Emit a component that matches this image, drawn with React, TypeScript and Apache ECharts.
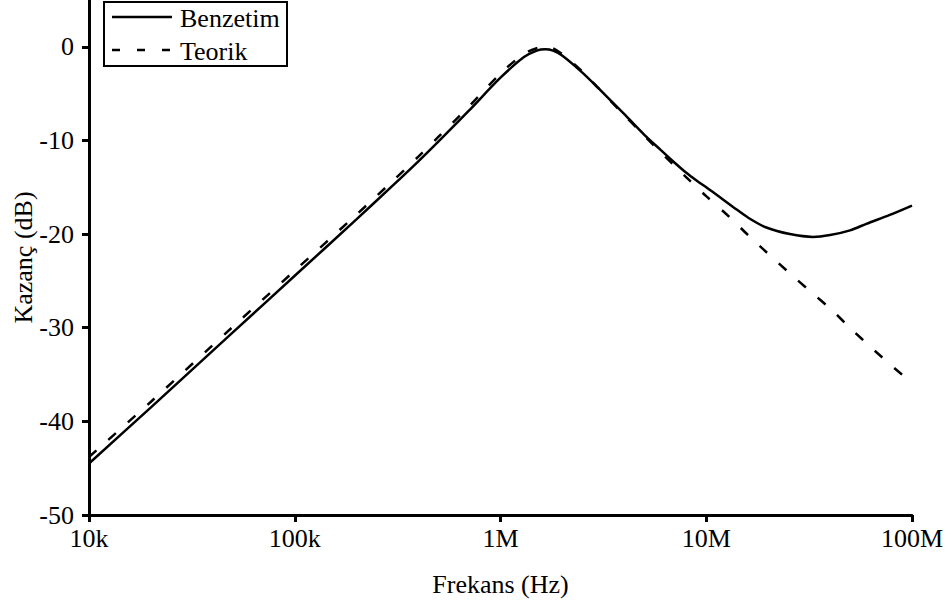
import React, { useEffect, useRef } from "react";
import * as echarts from "echarts";

const freqBenzetim = [1e4, 2e4, 5e4, 1e5, 2e5, 3e5, 4e5, 5e5, 7e5, 1e6, 1.3e6, 1.5e6, 1.65e6, 1.8e6, 2e6, 2.5e6, 3e6, 4e6, 5e6, 6e6, 7e6, 8e6, 9e6, 1e7, 1.17e7, 1.35e7, 1.6e7, 1.96e7, 2.55e7, 3.3e7, 4e7, 5e7, 6e7, 7.8e7, 1e8];
const gainBenzetim = [-44.5, -38.5, -30.5, -24.45, -18.4, -14.8, -12.2, -10.1, -6.85, -3.3, -1.1, -0.4, -0.25, -0.4, -0.95, -2.75, -4.45, -7.2, -9.4, -11.0, -12.35, -13.45, -14.3, -15.0, -16.1, -17.1, -18.25, -19.3, -20.0, -20.3, -20.1, -19.6, -18.9, -17.95, -16.95];

const freqTeorik = [1e4, 2e4, 5e4, 1e5, 2e5, 3e5, 4e5, 5e5, 7e5, 1e6, 1.3e6, 1.5e6, 1.65e6, 1.8e6, 2e6, 2.5e6, 3e6, 4e6, 5e6, 7e6, 8e6, 9e6, 1e7, 1.3e7, 1.63e7, 2e7, 2.55e7, 3.2e7, 4.07e7, 5.1e7, 6.4e7, 8.1e7, 1e8];
const gainTeorik = [-43.8, -37.9, -29.9, -23.9, -17.9, -14.3, -11.7, -9.6, -6.4, -2.85, -0.75, -0.15, 0.0, -0.15, -0.8, -2.65, -4.45, -7.3, -9.5, -12.7, -13.95, -15.0, -15.95, -18.2, -20.3, -22.1, -24.2, -26.1, -28.1, -30.2, -32.2, -34.2, -35.9];

const yTicks = [-50, -40, -30, -20, -10, 0];
const xTickLabels: Record<string, string> = {
  "10000": "10k",
  "100000": "100k",
  "1000000": "1M",
  "10000000": "10M",
  "100000000": "100M",
};
const seriesNames = ["Benzetim", "Teorik"];

const FONT = "Liberation Serif";
const DASH = [10, 16];

export default function App() {
  const ref = useRef<HTMLDivElement>(null);
  useEffect(() => {
    if (!ref.current) return;
    const chart = echarts.init(ref.current, null, { renderer: "svg" });
    const benz = freqBenzetim.map((f, i) => [f, gainBenzetim[i]]);
    const teo = freqTeorik.map((f, i) => [f, gainTeorik[i]]);
    chart.setOption({
      animation: false,
      backgroundColor: "#fff",
      textStyle: { fontFamily: FONT, color: "#000" },
      grid: { left: 89, right: 40, top: 0, bottom: 92, containLabel: false, outerBoundsMode: "none" },
      graphic: [
        {
          type: "group",
          z: 100,
          children: [
            {
              type: "rect",
              shape: { x: 104, y: 2, width: 183, height: 64 },
              style: { fill: "#fff", stroke: "#000", lineWidth: 2 },
            },
            {
              type: "line",
              shape: { x1: 112, y1: 17, x2: 172, y2: 17 },
              style: { stroke: "#000", lineWidth: 2.5 },
            },
            {
              type: "line",
              shape: { x1: 112, y1: 50, x2: 172, y2: 50 },
              style: { stroke: "#000", lineWidth: 2.5, lineDash: [8, 17] },
            },
            {
              type: "text",
              x: 180,
              y: 18,
              style: { text: seriesNames[0], font: `26px ${FONT}`, fill: "#000", verticalAlign: "middle", align: "left" },
            },
            {
              type: "text",
              x: 180,
              y: 51,
              style: { text: seriesNames[1], font: `26px ${FONT}`, fill: "#000", verticalAlign: "middle", align: "left" },
            },
          ],
        },
      ],
      xAxis: {
        type: "log",
        logBase: 10,
        min: 1e4,
        max: 1e8,
        name: "Frekans (Hz)",
        nameLocation: "middle",
        nameGap: 56,
        nameMoveOverlap: false,
        nameTextStyle: { fontFamily: FONT, fontSize: 26, color: "#000" },
        axisLine: { show: true, onZero: false, lineStyle: { color: "#000", width: 3 } },
        axisTick: { show: true, inside: false, length: 7, lineStyle: { color: "#000", width: 3 } },
        minorTick: { show: false },
        splitLine: { show: false },
        axisLabel: {
          fontFamily: FONT,
          fontSize: 26,
          color: "#000",
          margin: 10,
          formatter: (v: number) => xTickLabels[String(Math.round(v))] ?? "",
        },
      },
      yAxis: {
        type: "value",
        min: -50,
        max: 5,
        name: "Kazanç (dB)",
        nameLocation: "middle",
        nameGap: 53,
        nameMoveOverlap: false,
        nameTextStyle: { fontFamily: FONT, fontSize: 26, color: "#000" },
        axisLine: { show: true, onZero: false, lineStyle: { color: "#000", width: 3 } },
        axisTick: { show: true, inside: false, length: 7, lineStyle: { color: "#000", width: 3 }, customValues: yTicks },
        splitLine: { show: false },
        axisLabel: {
          fontFamily: FONT,
          fontSize: 26,
          color: "#000",
          margin: 15,
          customValues: yTicks,
        },
      },
      series: [
        {
          name: seriesNames[0],
          type: "line",
          data: benz,
          showSymbol: false,
          symbol: "none",
          smooth: 0.3,
          lineStyle: { color: "#000", width: 2.5, type: "solid" },
          itemStyle: { color: "#000" },
          z: 2,
        },
        {
          name: seriesNames[1],
          type: "line",
          data: teo,
          showSymbol: false,
          symbol: "none",
          smooth: 0.3,
          lineStyle: { color: "#000", width: 2.5, type: DASH },
          itemStyle: { color: "#000" },
          z: 3,
        },
      ],
    });
    return () => chart.dispose();
  }, []);
  return (
    <div
      ref={ref}
      style={{ position: "fixed", left: 0, top: 0, width: 952, height: 607, background: "#fff" }}
    />
  );
}
